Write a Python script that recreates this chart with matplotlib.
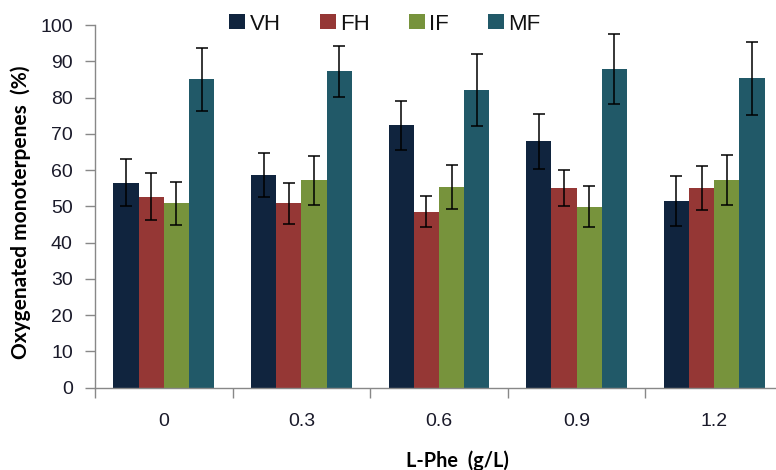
import matplotlib.pyplot as plt
import numpy as np

# L-Phe concentration groups
doses = ['0', '0.3', '0.6', '0.9', '1.2']
series = ['VH', 'FH', 'IF', 'MF']

vh = [56.5, 58.6, 72.3, 67.9, 51.4]
fh = [52.6, 50.8, 48.5, 55.0, 55.0]
if_ = [50.8, 57.2, 55.3, 49.9, 57.2]
mf = [85.0, 87.2, 82.1, 87.9, 85.3]

vh_err = [6.5, 6.0, 6.7, 7.6, 6.9]
fh_err = [6.5, 5.6, 4.3, 5.0, 6.1]
if_err = [6.0, 6.7, 6.1, 5.7, 6.9]
mf_err = [8.7, 7.1, 10.0, 9.7, 10.0]

colors = ['#10243E', '#953735', '#77933C', '#215968']

plt.rcParams['font.family'] = ['Liberation Sans', 'DejaVu Sans']

fig = plt.figure(figsize=(7.76, 4.70), dpi=100)
ax = fig.add_axes([95/776, 82.3/470, 688/776, 362.7/470])

x = np.arange(len(doses))
w = 0.183
values = [vh, fh, if_, mf]
errs = [vh_err, fh_err, if_err, mf_err]
for i in range(4):
    ax.bar(x + (i - 1.5)*w, values[i], w, color=colors[i], label=series[i],
           yerr=errs[i], capsize=4.5,
           error_kw=dict(ecolor='black', elinewidth=1.1, capthick=1.1))

ax.set_xlim(-0.5, 4.5)
ax.set_ylim(0, 100)
ax.set_yticks(np.arange(0, 101, 10))
ax.set_xticks(np.arange(-0.5, 5, 1), minor=False)
ax.set_xticklabels([])
ax.set_xticks(x, minor=True)
ax.set_xticklabels(doses, minor=True)
ax.tick_params(axis='x', which='major', length=7, color='#888888', width=1)
ax.tick_params(axis='x', which='minor', length=0, pad=18, labelsize=14, labelcolor='#1a1a2a')
ax.tick_params(axis='y', length=7, color='#888888', width=1, labelsize=14, labelcolor='#1a1a2a', pad=9)

for s in ['top', 'right']:
    ax.spines[s].set_visible(False)
for s in ['left', 'bottom']:
    ax.spines[s].set_color('#888888')
    ax.spines[s].set_linewidth(1)

fig.text(21/776, 1 - 212/470, 'Oxygenated monoterpenes  (%)', rotation=90,
         ha='center', va='center', fontsize=15, fontweight='bold', family='Lato')
fig.text(457/776, 1 - 461/470, 'L-Phe  (g/L)', ha='center', va='center',
         fontsize=14.3, fontweight='bold', family='Lato')

fig.legend(loc='center', bbox_to_anchor=(385/776, 1 - 24/470), ncol=4, frameon=False,
           fontsize=16, handlelength=0.72, handleheight=0.65, handletextpad=0.2,
           columnspacing=1.75, labelcolor='#111111')

fig.savefig('out.png', dpi=100)
